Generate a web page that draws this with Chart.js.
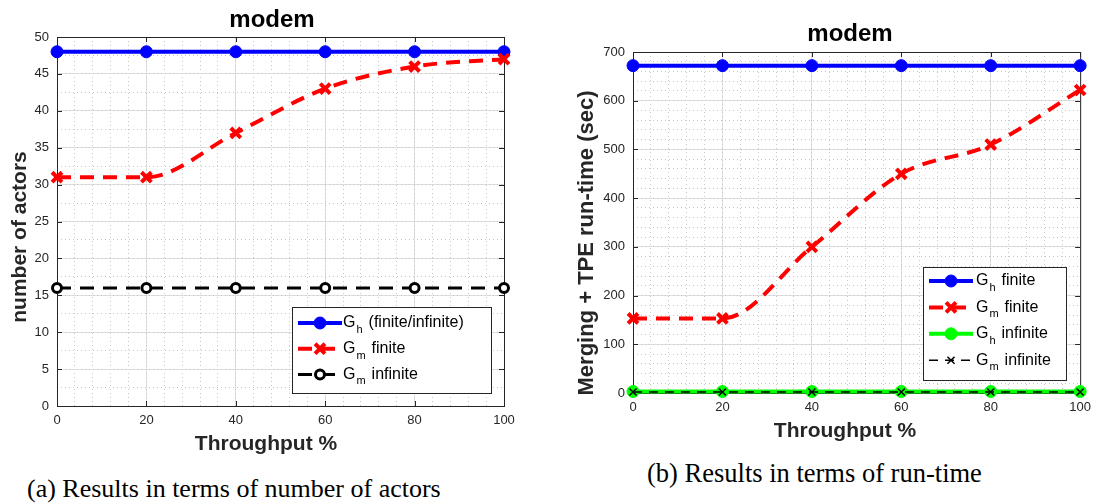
<!DOCTYPE html>
<html lang="en">
<head>
<meta charset="UTF-8">
<title>modem</title>
<script src="https://cdn.jsdelivr.net/npm/chart.js"></script>
<style>
  body { margin: 0; width: 1093px; height: 503px; overflow: hidden; background: #fff; position: relative; }
  .box { position: absolute; top: 0; }
  #boxA { left: 0; width: 540px; height: 460px; }
  #boxB { left: 560px; width: 538px; height: 450px; }
  .caption { position: absolute; font-family: "Liberation Serif", serif; font-size: 26px; line-height: 26px; white-space: nowrap; color: #000; }
</style>
</head>
<body>
<div class="box" id="boxA"><canvas id="actorsChart"></canvas></div>
<div class="box" id="boxB"><canvas id="runtimeChart"></canvas></div>
<div class="caption" style="left:27px; top:476px;">(a) Results in terms of number of actors</div>
<div class="caption" style="left:647px; top:460px; font-size:26.5px;">(b) Results in terms of run-time</div>

<script>
// x values shared by both plots
const throughput = [0, 20, 40, 60, 80, 100];

// (a) number of actors
const actorsGh = [48, 48, 48, 48, 48, 48];
const actorsGmFinite = [31, 31, 37, 43, 46, 47];
const actorsGmInfinite = [16, 16, 16, 16, 16, 16];
const actorsLegend = [['G', 'h', '(finite/infinite)'], ['G', 'm', 'finite'], ['G', 'm', 'infinite']];

// (b) run-time in seconds
const timeGhFinite = [672, 672, 672, 672, 672, 672];
const timeGmFinite = [153, 153, 300, 450, 510, 622];
const timeGhInfinite = [3, 3, 3, 3, 3, 3];
const timeGmInfinite = [2, 2, 2, 2, 2, 2];
const runtimeLegend = [['G', 'h', 'finite'], ['G', 'm', 'finite'], ['G', 'h', 'infinite'], ['G', 'm', 'infinite']];

const plotTitle = 'modem';
const xTitle = 'Throughput %';
const yTitleActors = 'number of actors';
const yTitleTime = 'Merging + TPE run-time (sec)';

const AXIS = '#262626';
const FONT = '"Liberation Sans", Arial, sans-serif';

const pts = ys => throughput.map((x, i) => ({ x: x, y: ys[i] }));

function drawMarker(ctx, ds, x, y) {
  ctx.save();
  ctx.setLineDash([]);
  ctx.lineWidth = ds.pointBorderWidth;
  ctx.strokeStyle = ds.pointBorderColor;
  ctx.fillStyle = ds.pointBackgroundColor;
  const r = ds.pointRadius;
  if (ds.pointStyle === 'crossRot') {
    const d = r * Math.SQRT1_2;
    ctx.beginPath();
    ctx.moveTo(x - d, y - d); ctx.lineTo(x + d, y + d);
    ctx.moveTo(x - d, y + d); ctx.lineTo(x + d, y - d);
    ctx.stroke();
  } else {
    ctx.beginPath();
    ctx.arc(x, y, r, 0, Math.PI * 2);
    ctx.fill();
    ctx.stroke();
  }
  ctx.restore();
}

// box around the axes with inward ticks, matlab style
const axesFrame = {
  id: 'axesFrame',
  beforeDatasetsDraw(chart) {
    const { ctx, chartArea: a, scales } = chart;
    ctx.save();
    ctx.strokeStyle = AXIS;
    ctx.lineWidth = 1;
    ctx.strokeRect(a.left + 0.5, a.top + 0.5, a.right - a.left, a.bottom - a.top);
    ctx.beginPath();
    scales.x.ticks.forEach(t => {
      const px = Math.round(scales.x.getPixelForValue(t.value)) + 0.5;
      ctx.moveTo(px, a.bottom); ctx.lineTo(px, a.bottom - 5);
      ctx.moveTo(px, a.top); ctx.lineTo(px, a.top + 5);
    });
    scales.y.ticks.forEach(t => {
      const py = Math.round(scales.y.getPixelForValue(t.value)) + 0.5;
      ctx.moveTo(a.left, py); ctx.lineTo(a.left + 5, py);
      ctx.moveTo(a.right, py); ctx.lineTo(a.right - 5, py);
    });
    ctx.stroke();
    ctx.restore();
  }
};

// legend box inside the axes, with subscripted labels
const boxLegend = {
  id: 'boxLegend',
  afterDatasetsDraw(chart, args, o) {
    const ctx = chart.ctx;
    ctx.save();
    ctx.fillStyle = '#fff';
    ctx.fillRect(o.x, o.y, o.w, o.h);
    ctx.strokeStyle = AXIS;
    ctx.lineWidth = 1;
    ctx.strokeRect(o.x + 0.5, o.y + 0.5, o.w, o.h);
    chart.data.datasets.forEach((ds, i) => {
      const cy = o.y + o.first + i * o.gap;
      ctx.save();
      ctx.strokeStyle = ds.borderColor;
      ctx.lineWidth = ds.borderWidth;
      ctx.setLineDash(ds.borderDash || []);
      ctx.beginPath();
      ctx.moveTo(o.x + 6, cy); ctx.lineTo(o.x + 50, cy);
      ctx.stroke();
      ctx.restore();
      drawMarker(ctx, ds, o.x + 28, cy);

      const parts = ds.legendParts;
      let tx = o.x + o.textX;
      ctx.fillStyle = '#000';
      ctx.textBaseline = 'middle';
      ctx.font = '16px ' + FONT;
      ctx.fillText(parts[0], tx, cy);
      tx += ctx.measureText(parts[0]).width + 1;
      ctx.font = '11px ' + FONT;
      ctx.fillText(parts[1], tx, cy + 7);
      tx += ctx.measureText(parts[1]).width + 6;
      ctx.font = '16px ' + FONT;
      ctx.fillText(parts[2], tx, cy);
    });
    ctx.restore();
  }
};

// title and axis labels, placed where matlab put them
function figLabels(items) {
  return {
    id: 'figLabels',
    afterDraw(chart) {
      const ctx = chart.ctx;
      items.forEach(it => {
        ctx.save();
        ctx.translate(it.x, it.y);
        if (it.rotate) ctx.rotate(-Math.PI / 2);
        ctx.font = it.font;
        ctx.fillStyle = it.color || AXIS;
        ctx.textAlign = 'center';
        ctx.textBaseline = 'middle';
        ctx.fillText(it.text, 0, 0);
        ctx.restore();
      });
    }
  };
}

function makeScales(yMax, yStep, yMinor, yWidth, xHeight) {
  return {
    x: {
      type: 'linear', position: 'bottom', min: 0, max: 100,
      grid: { color: '#e0e0e0', drawTicks: false },
      border: { display: false },
      ticks: { stepSize: 20, autoSkip: false, maxRotation: 0, padding: 7, color: AXIS, font: { family: FONT, size: 13 } },
      afterFit: s => { s.height = xHeight; }
    },
    xMinor: {
      type: 'linear', position: 'bottom', min: 0, max: 100,
      grid: { color: '#c8c8c8', drawTicks: false },
      border: { display: false, dash: [1, 3] },
      ticks: { display: false, stepSize: 4 },
      afterFit: s => { s.height = 0; }
    },
    y: {
      type: 'linear', position: 'left', min: 0, max: yMax,
      grid: { color: '#e0e0e0', drawTicks: false },
      border: { display: false },
      ticks: { stepSize: yStep, autoSkip: false, padding: 8, color: AXIS, font: { family: FONT, size: 13 } },
      afterFit: s => { s.width = yWidth; }
    },
    yMinor: {
      type: 'linear', position: 'left', min: 0, max: yMax,
      grid: { color: '#c8c8c8', drawTicks: false },
      border: { display: false, dash: [1, 3] },
      ticks: { display: false, stepSize: yMinor },
      afterFit: s => { s.width = 0; }
    }
  };
}

function line(label, parts, data, color, width, dash, style, radius, pbw, fill, order) {
  return {
    label: label, legendParts: parts, data: data,
    borderColor: color, backgroundColor: color, borderWidth: width, borderDash: dash,
    pointStyle: style, pointRadius: radius, pointBorderWidth: pbw,
    pointBorderColor: color, pointBackgroundColor: fill,
    cubicInterpolationMode: 'monotone', clip: false, order: order
  };
}

new Chart(document.getElementById('actorsChart'), {
  type: 'line',
  data: {
    datasets: [
      line('Gh (finite/infinite)', actorsLegend[0], pts(actorsGh), '#0000ff', 4, [], 'circle', 6, 1, '#0000ff', 1),
      line('Gm finite', actorsLegend[1], pts(actorsGmFinite), '#ff0000', 4, [14, 9], 'crossRot', 7, 4, '#ff0000', 0),
      line('Gm infinite', actorsLegend[2], pts(actorsGmInfinite), '#000000', 3, [14, 9], 'circle', 4.5, 3, '#ffffff', 2)
    ]
  },
  options: {
    responsive: true,
    maintainAspectRatio: false,
    animation: false,
    layout: { padding: { left: 0, right: 36, top: 37, bottom: 0 } },
    scales: makeScales(50, 5, 2.5, 57, 54),
    plugins: {
      legend: { display: false },
      tooltip: { enabled: false },
      boxLegend: { x: 292, y: 307, w: 199, h: 86, first: 16, gap: 25.7, textX: 51 }
    }
  },
  plugins: [axesFrame, boxLegend, figLabels([
    { text: plotTitle, x: 272, y: 20, font: 'bold 24px ' + FONT, color: '#000' },
    { text: xTitle, x: 266, y: 444, font: 'bold 21px ' + FONT },
    { text: yTitleActors, x: 20, y: 237, font: 'bold 21px ' + FONT, rotate: true }
  ])]
});

new Chart(document.getElementById('runtimeChart'), {
  type: 'line',
  data: {
    datasets: [
      line('Gh finite', runtimeLegend[0], pts(timeGhFinite), '#0000ff', 4, [], 'circle', 6, 1, '#0000ff', 1),
      line('Gm finite', runtimeLegend[1], pts(timeGmFinite), '#ff0000', 4, [14, 9], 'crossRot', 7, 4, '#ff0000', 0),
      line('Gh infinite', runtimeLegend[2], pts(timeGhInfinite), '#00ff00', 4, [], 'circle', 6, 1, '#00ff00', 2),
      line('Gm infinite', runtimeLegend[3], pts(timeGmInfinite), '#000000', 1.5, [9, 7], 'crossRot', 5, 1.5, '#000000', 0)
    ]
  },
  options: {
    responsive: true,
    maintainAspectRatio: false,
    animation: false,
    layout: { padding: { left: 0, right: 0, top: 52, bottom: 0 } },
    scales: makeScales(700, 100, 20, 73, 57),
    plugins: {
      legend: { display: false },
      tooltip: { enabled: false },
      boxLegend: { x: 363, y: 267, w: 143, h: 113, first: 14, gap: 26.4, textX: 53 }
    }
  },
  plugins: [axesFrame, boxLegend, figLabels([
    { text: plotTitle, x: 290, y: 34, font: 'bold 24px ' + FONT, color: '#000' },
    { text: xTitle, x: 285, y: 431, font: 'bold 21px ' + FONT },
    { text: yTitleTime, x: 27, y: 243, font: 'bold 22px ' + FONT, rotate: true }
  ])]
});
</script>
</body>
</html>
